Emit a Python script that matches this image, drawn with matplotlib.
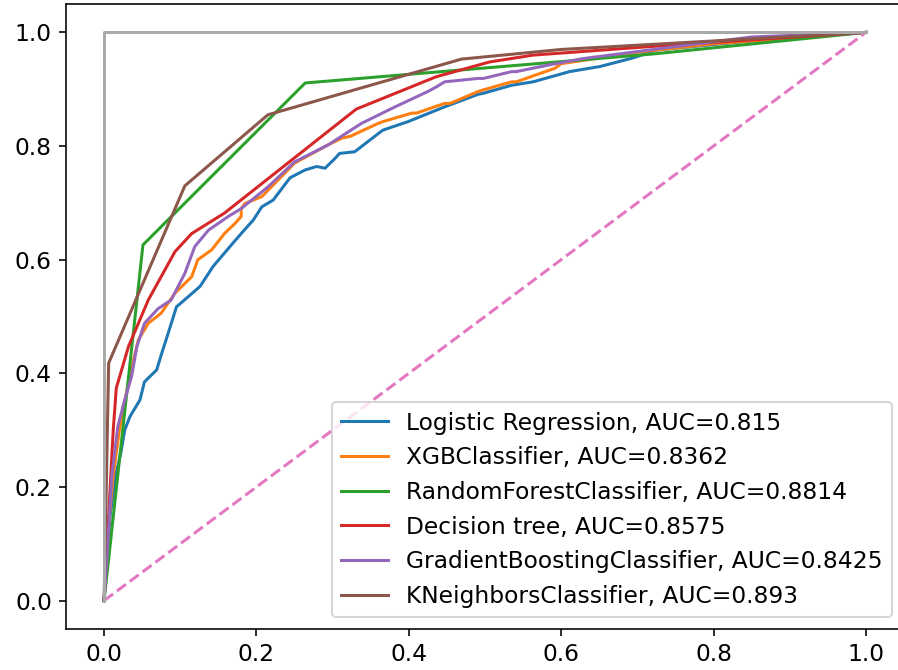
import matplotlib
matplotlib.use("Agg")
import matplotlib.pyplot as plt
import numpy as np

# ROC curves (false positive rate, true positive rate) for each model
lr_fpr = [0.0, 0.002, 0.008, 0.015, 0.022, 0.027, 0.034, 0.047, 0.053, 0.069, 0.077, 0.084,
          0.095, 0.108, 0.126, 0.143, 0.169, 0.180, 0.196, 0.207, 0.222, 0.244, 0.264, 0.279,
          0.290, 0.303, 0.309, 0.329, 0.360, 0.366, 0.399, 0.436, 0.447, 0.491, 0.498, 0.535,
          0.563, 0.611, 0.651, 0.694, 0.725, 0.85, 1.0]
lr_tpr = [0.0, 0.05, 0.15, 0.22, 0.26, 0.30, 0.324, 0.353, 0.385, 0.406, 0.441, 0.470,
          0.517, 0.532, 0.553, 0.588, 0.629, 0.646, 0.670, 0.693, 0.705, 0.744, 0.758, 0.764,
          0.761, 0.778, 0.787, 0.790, 0.822, 0.828, 0.843, 0.863, 0.869, 0.891, 0.893, 0.907,
          0.913, 0.931, 0.940, 0.955, 0.969, 0.985, 1.0]

xgb_fpr = [0.0, 0.005, 0.012, 0.020, 0.030, 0.038, 0.045, 0.058, 0.075, 0.093, 0.115, 0.123,
           0.141, 0.158, 0.172, 0.180, 0.180, 0.185, 0.207, 0.250, 0.294, 0.312, 0.323, 0.360,
           0.366, 0.404, 0.410, 0.447, 0.454, 0.491, 0.498, 0.535, 0.541, 0.592, 0.600, 0.70,
           0.80, 1.0]
xgb_tpr = [0.0, 0.12, 0.22, 0.30, 0.37, 0.42, 0.459, 0.488, 0.506, 0.541, 0.570, 0.600,
           0.617, 0.646, 0.664, 0.676, 0.690, 0.699, 0.711, 0.770, 0.802, 0.814, 0.817, 0.840,
           0.843, 0.858, 0.858, 0.875, 0.875, 0.896, 0.899, 0.913, 0.913, 0.937, 0.945, 0.965,
           0.980, 1.0]

rf_fpr = [0.0, 0.051, 0.264, 0.720, 1.0]
rf_tpr = [0.0, 0.626, 0.911, 0.962, 1.0]

dt_fpr = [0.0, 0.012, 0.016, 0.032, 0.058, 0.093, 0.115, 0.158, 0.331, 0.436, 0.506, 0.563,
          0.716, 1.0]
dt_tpr = [0.0, 0.300, 0.374, 0.447, 0.529, 0.614, 0.646, 0.682, 0.865, 0.922, 0.948, 0.960,
          0.975, 1.0]

gb_fpr = [0.0, 0.004, 0.010, 0.018, 0.027, 0.036, 0.043, 0.053, 0.071, 0.088, 0.106, 0.119,
          0.137, 0.163, 0.180, 0.215, 0.250, 0.294, 0.338, 0.382, 0.425, 0.436, 0.447, 0.491,
          0.498, 0.535, 0.541, 0.585, 0.629, 0.75, 0.85, 1.0]
gb_tpr = [0.0, 0.08, 0.218, 0.306, 0.353, 0.394, 0.447, 0.488, 0.514, 0.529, 0.576, 0.623,
          0.652, 0.676, 0.690, 0.728, 0.772, 0.802, 0.840, 0.869, 0.896, 0.904, 0.913, 0.919,
          0.919, 0.931, 0.931, 0.943, 0.954, 0.975, 0.992, 1.0]

knn_fpr = [0.0, 0.006, 0.106, 0.215, 0.469, 0.60, 1.0]
knn_tpr = [0.0, 0.418, 0.730, 0.855, 0.953, 0.970, 1.0]

model_names = ["Logistic Regression", "XGBClassifier", "RandomForestClassifier",
               "Decision tree", "GradientBoostingClassifier", "KNeighborsClassifier"]
model_auc = ["0.815", "0.8362", "0.8814", "0.8575", "0.8425", "0.893"]

curves = [(lr_fpr, lr_tpr), (xgb_fpr, xgb_tpr), (rf_fpr, rf_tpr),
          (dt_fpr, dt_tpr), (gb_fpr, gb_tpr), (knn_fpr, knn_tpr)]

plt.rcParams["font.size"] = 11.6

dpi = 145
fig = plt.figure(figsize=(898 / dpi, 670 / dpi), dpi=dpi)
ax = fig.add_axes([66 / 898, 41 / 670, 838 / 898, 625 / 670])

for (fpr, tpr), name, auc in zip(curves, model_names, model_auc):
    ax.plot(fpr, tpr, label=f"{name}, AUC={auc}")

# chance line and perfect classifier
ax.plot([0, 1], [0, 1], linestyle="--")
ax.plot([0, 0, 1], [0, 1, 1], color="darkgray")

ax.legend(loc="lower right")
fig.savefig("out.png", dpi=dpi)
